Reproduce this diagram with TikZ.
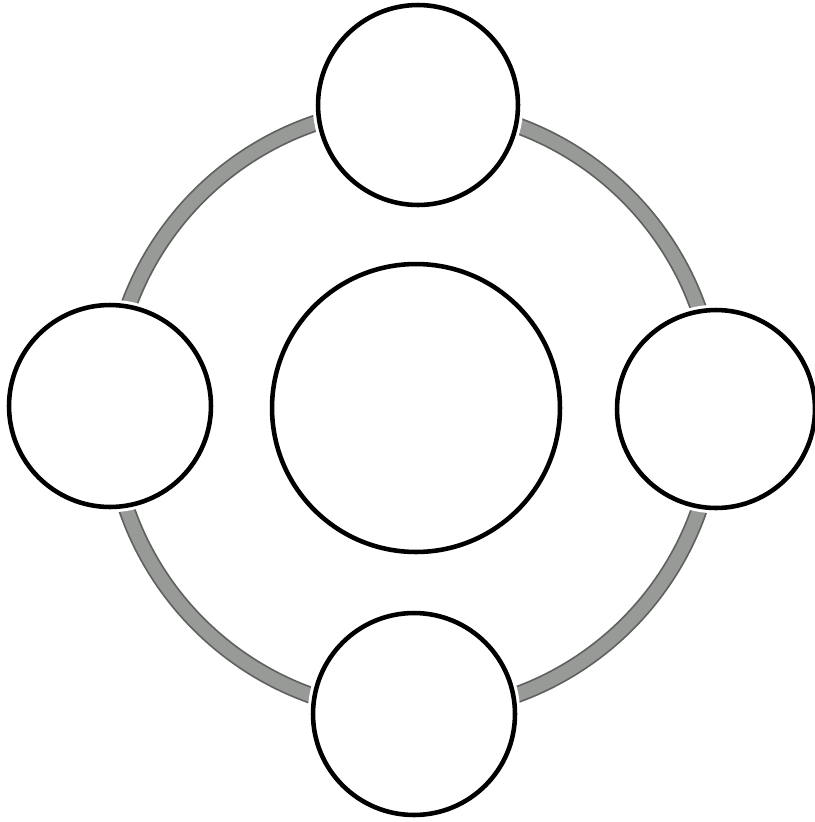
\documentclass[tikz,border=0pt]{standalone}
\usepackage{tikz}
\usetikzlibrary{positioning}
\definecolor{ringgray}{RGB}{152,154,152}
\definecolor{ringedge}{RGB}{95,97,95}

\begin{document}
\begin{tikzpicture}[x=0.02cm, y=-0.02cm,
  station/.style={circle, draw=black, line width=2.6pt, fill=white, inner sep=0pt,
    preaction={draw=white, line width=6pt}},
  ringline/.style={draw=ringedge, line width=0.34cm}]
  \useasboundingbox (0,0) rectangle (815,822);
  \fill[white] (0,0) rectangle (815,822);

  % outer ring
  \draw[ringline] (413,410) circle (6.06cm);
  \draw[draw=ringgray, line width=0.27cm] (413,410) circle (6.06cm);

  % hub and stations
  \node[station, minimum size=5.76cm] (hub) at (416,408) {};
  \node[station, minimum size=4cm] (top) at (418,105) {};
  \node[station, minimum size=4.04cm] (left) at (110,406) {};
  \node[station, minimum size=3.96cm] (right) at (716,409) {};
  \node[station, minimum size=4.04cm] (bottom) at (414,714) {};
\end{tikzpicture}
\end{document}
